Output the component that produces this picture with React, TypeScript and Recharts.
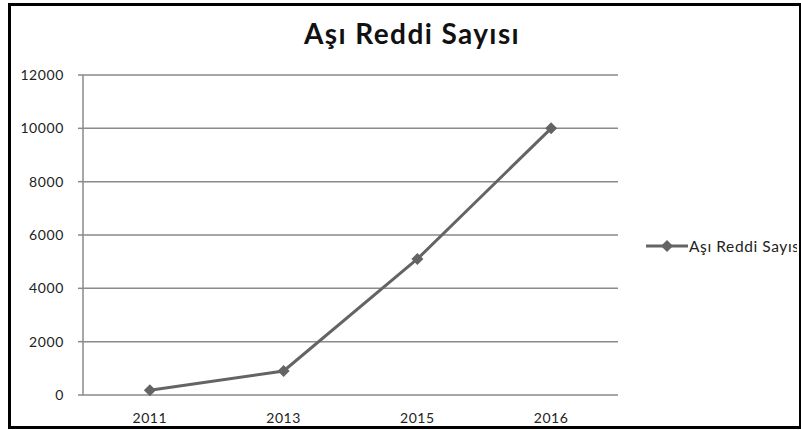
import React from 'react';
import { LineChart, Line, XAxis, YAxis, CartesianGrid, Legend } from 'recharts';

const years = ['2011', '2013', '2015', '2016'];
const refusals = [180, 900, 5100, 10000];
const yTicks = [0, 2000, 4000, 6000, 8000, 10000, 12000];
const bandEdges = [0, 1, 2, 3, 4];
const seriesName = 'Aşı Reddi Sayısı';

const chartData = years.map((year, i) => ({ year, value: refusals[i] }));

const FONT = 'Lato, "Open Sans", sans-serif';
const LINE = '#646464';
const GRID = '#8a8a8a';
const tickStyle = { fontFamily: FONT, fontSize: 14, fill: '#222', letterSpacing: 0.6 };

const Diamond = (props: any) => {
  const { cx, cy } = props;
  if (cx == null || cy == null) return null;
  const r = 6;
  return (
    <polygon
      points={`${cx},${cy - r} ${cx + r},${cy} ${cx},${cy + r} ${cx - r},${cy}`}
      fill={LINE}
    />
  );
};

const LegendContent = () => (
  <div style={{ display: 'flex', alignItems: 'center', whiteSpace: 'nowrap' }}>
    <svg width={42} height={14}>
      <line x1={0} y1={7} x2={42} y2={7} stroke={LINE} strokeWidth={3} />
      <polygon points="21,1 27,7 21,13 15,7" fill={LINE} />
    </svg>
    <span style={{ fontFamily: FONT, fontSize: 15.5, color: '#222', letterSpacing: 0.6, marginLeft: 1 }}>
      {seriesName}
    </span>
  </div>
);

const App: React.FC = () => {
  return (
    <div style={{ position: 'absolute', left: 0, top: 0, width: 801, height: 430, background: '#fff', overflow: 'hidden' }}>
      <div
        style={{
          position: 'absolute',
          left: 8,
          top: 3,
          width: 793,
          height: 426,
          boxSizing: 'border-box',
          border: '3px solid #000',
          borderRightWidth: 2,
        }}
      />
      <div
        style={{
          position: 'absolute',
          left: 304,
          top: 16,
          whiteSpace: 'nowrap',
          fontFamily: FONT,
          fontWeight: 700,
          fontSize: 28,
          letterSpacing: 1.4,
          color: '#111',
        }}
      >
        {seriesName}
      </div>
      <div style={{ position: 'absolute', left: 0, top: 0, width: 797, height: 430, overflow: 'hidden' }}>
        <LineChart width={801} height={430} data={chartData} margin={{ top: 75, right: 183, bottom: 0, left: 23 }}>
          <CartesianGrid vertical={false} stroke={GRID} strokeWidth={1.5} />
          <XAxis
            xAxisId="marks"
            type="number"
            domain={[0, 4]}
            ticks={bandEdges}
            height={0}
            tick={false}
            tickLine={{ stroke: GRID, strokeWidth: 1.5 }}
            tickSize={5}
            axisLine={{ stroke: GRID, strokeWidth: 1.5 }}
          />
          <XAxis
            xAxisId="cat"
            dataKey="year"
            scale="band"
            height={35}
            axisLine={false}
            tickLine={false}
            tickMargin={12}
            tick={tickStyle}
          />
          <YAxis
            domain={[0, 12000]}
            ticks={yTicks}
            width={60}
            tickSize={5}
            tickMargin={14}
            axisLine={{ stroke: GRID, strokeWidth: 1.5 }}
            tickLine={{ stroke: GRID, strokeWidth: 1.5 }}
            tick={tickStyle}
          />
          <Legend
            layout="horizontal"
            align="center"
            verticalAlign="middle"
            content={<LegendContent />}
            wrapperStyle={{ left: 646, top: 237, right: 'auto', bottom: 'auto', width: 200 }}
          />
          <Line
            xAxisId="cat"
            dataKey="value"
            name={seriesName}
            stroke={LINE}
            strokeWidth={3}
            dot={<Diamond />}
            activeDot={false}
            isAnimationActive={false}
          />
        </LineChart>
      </div>
    </div>
  );
};

export default App;
